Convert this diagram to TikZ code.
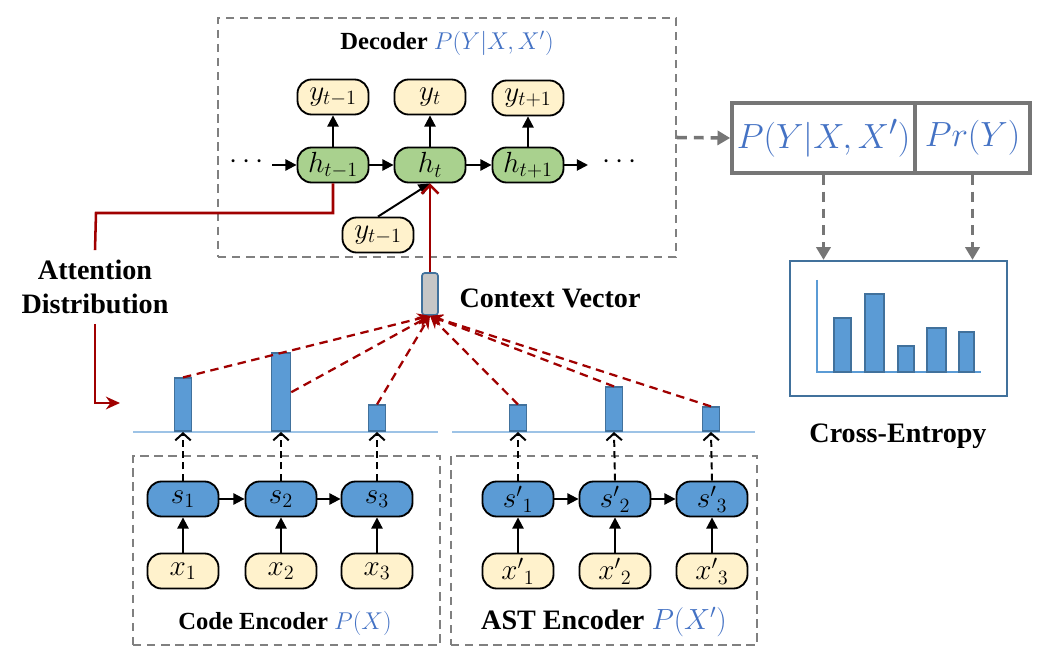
\documentclass[tikz,border=0pt]{standalone}
\usepackage{fontspec}
\setmainfont{Liberation Serif}
\usetikzlibrary{arrows.meta,positioning,calc}
\definecolor{mblue}{HTML}{4472C4}
\definecolor{nyellow}{HTML}{FFF2CC}
\definecolor{ngreen}{HTML}{A9D18E}
\definecolor{nblue}{HTML}{5B9BD5}
\definecolor{bedge}{HTML}{41719C}
\definecolor{attred}{HTML}{A00000}
\definecolor{lblue}{HTML}{9DC3E6}
\definecolor{boxgray}{HTML}{767676}
\newcommand{\bigfont}{\fontsize{20}{24}\selectfont}
\newcommand{\midfont}{\fontsize{17.5}{21}\selectfont}
\begin{document}
\begin{tikzpicture}[x=0.025cm,y=-0.025cm,>=Triangle,font=\bigfont,
  cell/.style={draw,line width=1.3pt,rounded corners=10pt,minimum width=1.775cm,minimum height=0.875cm,inner sep=0pt,font=\fontsize{22}{26}\selectfont},
  yin/.style={cell,fill=nyellow},
  hid/.style={cell,fill=ngreen},
  enc/.style={cell,fill=nblue},
  bar/.style={draw=bedge,fill=nblue,line width=1.1pt,minimum width=0.425cm,inner sep=0pt,anchor=south},
  grpbox/.style={draw=gray,dash pattern=on 6pt off 4pt,line width=1.3pt,inner sep=0pt},
  pbox/.style={draw=boxgray,line width=2.6pt,minimum height=1.75cm,inner sep=0pt,text=mblue,font=\fontsize{28}{32}\selectfont},
  attn/.style={attred,dash pattern=on 6pt off 4pt,line width=1.6pt,-{Stealth[length=9pt,width=8pt]}},
  upd/.style={dash pattern=on 5pt off 3pt,line width=1.4pt,-{Straight Barb[length=5pt,width=11pt,line width=1.4pt]}},
  gline/.style={boxgray,dash pattern=on 7pt off 5pt,line width=2.5pt,-{Triangle[length=9pt,width=10pt]}},
  solid arrow/.style={line width=1.4pt,-{Triangle[length=8pt,width=8pt]}}]
\useasboundingbox (0,0) rectangle (1058,662);

% decoder
\node[grpbox,minimum width=11.45cm,minimum height=5.975cm] (dec) at (447,137.5) {};
\node[font=\midfont] (dectitle) at (447,43) {\textbf{Decoder} {\color{mblue}$P(Y|X,X')$}};
\node[yin] (ym) at (333,97) {$y_{t-1}$};
\node[yin] (yt) at (430,97) {$y_{t}$};
\node[yin] (yp) at (528,98) {$y_{t+1}$};
\node[hid] (hm) at (333,165) {$h_{t-1}$};
\node[hid] (ht) at (430,165) {$h_{t}$};
\node[hid] (hp) at (528,165) {$h_{t+1}$};
\node[yin] (yprev) at (378,235) {$y_{t-1}$};
\node (ldots) at (247,162) {$\cdots$};
\node (rdots) at (620,162) {$\cdots$};
\coordinate (lin) at (272,165);
\coordinate (rout) at (588,165);
\draw[solid arrow] (lin) -- (hm);
\draw[solid arrow] (hm) -- (ht);
\draw[solid arrow] (ht) -- (hp);
\draw[solid arrow] (hp) -- (rout);
\draw[solid arrow] (hm) -- (ym);
\draw[solid arrow] (ht) -- (yt);
\draw[solid arrow] (hp) -- (yp);
\draw[solid arrow] (yprev.north) -- (ht.south);

% context vector
\node[draw=bedge,fill=gray!45,line width=1.2pt,rounded corners=2pt,minimum width=0.4cm,minimum height=1.05cm,inner sep=0pt] (cv) at (430,294) {};
\node (cvlabel) at (550,298) {\textbf{Context Vector}};
\draw[attred,line width=1.8pt,-{Straight Barb[length=6pt,width=12pt]}] (cv.north) -- (ht.south);

% attention distribution
\node[align=center,inner sep=7pt] (att) at (95,287) {\textbf{Attention}\\\textbf{Distribution}};
\coordinate (attin) at (120,403);
\draw[attred,line width=1.8pt] (hm.south) |- (96,213) -- (att.north);
\draw[attred,line width=1.8pt,-{Stealth[length=10pt,width=9pt]}] (att.south) |- (attin);

% attention bars
\draw[lblue,line width=1pt] (133,432) -- (438,432);
\draw[lblue,line width=1pt] (452,432) -- (755,432);
\node[bar,minimum height=1.325cm] (b1) at (183,432) {};
\node[bar,minimum height=1.95cm,minimum width=0.475cm] (b2) at (281,432) {};
\node[bar,minimum height=0.65cm] (b3) at (377,432) {};
\node[bar,minimum height=0.65cm] (b4) at (518,432) {};
\node[bar,minimum height=1.1cm] (b5) at (614,432) {};
\node[bar,minimum height=0.6cm] (b6) at (711,432) {};
\foreach \b/\a in {b1/north,b2/east,b3/north,b4/north,b5/north,b6/north}
  \draw[attn] (\b.\a) -- (cv.south);

% code encoder
\node[grpbox,minimum width=7.675cm,minimum height=4.725cm] (codebox) at (286.5,550.5) {};
\node[font=\midfont] (codetitle) at (285,623) {\textbf{Code Encoder} {\color{mblue}$P(X)$}};
\node[enc] (s1) at (183,499) {$s_1$};
\node[enc] (s2) at (281,499) {$s_2$};
\node[enc] (s3) at (377,499) {$s_3$};
\node[yin] (x1) at (183,571) {$x_1$};
\node[yin] (x2) at (281,571) {$x_2$};
\node[yin] (x3) at (377,571) {$x_3$};

% AST encoder
\node[grpbox,minimum width=7.65cm,minimum height=4.725cm] (astbox) at (604,550.5) {};
\node (asttitle) at (604,622) {\textbf{AST Encoder} {\color{mblue}$P(X')$}};
\node[enc] (s4) at (518,499) {${s'}_1$};
\node[enc] (s5) at (615,499) {${s'}_2$};
\node[enc] (s6) at (712,499) {${s'}_3$};
\node[yin] (x4) at (518,571) {${x'}_1$};
\node[yin] (x5) at (615,571) {${x'}_2$};
\node[yin] (x6) at (712,571) {${x'}_3$};

\foreach \i in {1,...,6}
  \draw[solid arrow] (x\i) -- (s\i);
\draw[solid arrow] (s1) -- (s2);
\draw[solid arrow] (s2) -- (s3);
\draw[solid arrow] (s4) -- (s5);
\draw[solid arrow] (s5) -- (s6);
\foreach \i in {1,...,6}
  \draw[upd] (s\i.north) -- (b\i.south);

% output distributions and loss
\node[pbox,minimum width=4.575cm] (pyx) at (823.5,138) {$P(Y|X,X')$};
\node[pbox,minimum width=2.875cm] (pry) at (972.5,138) {$Pr(Y)$};
\draw[gline] (dec.east) -- (pyx.west);
\node[draw=bedge,line width=1.6pt,minimum width=5.425cm,minimum height=3.375cm,inner sep=0pt] (ce) at (898.5,328.5) {};
\draw[gline] (pyx.south) -- (pyx.south |- ce.north);
\draw[gline] (pry.south) -- (pry.south |- ce.north);
\draw[nblue,line width=1.3pt] (817,280) -- (817,372) -- (981,372);
\foreach \l/\r/\t in {834/851/318,865/884/294,898/914/346,927/946/328,959/974/332}
  \draw[draw=bedge,fill=nblue,line width=1.1pt] (\l,372) rectangle (\r,\t);
\node (celabel) at (898,436) {\textbf{Cross-Entropy}};
\end{tikzpicture}
\end{document}
